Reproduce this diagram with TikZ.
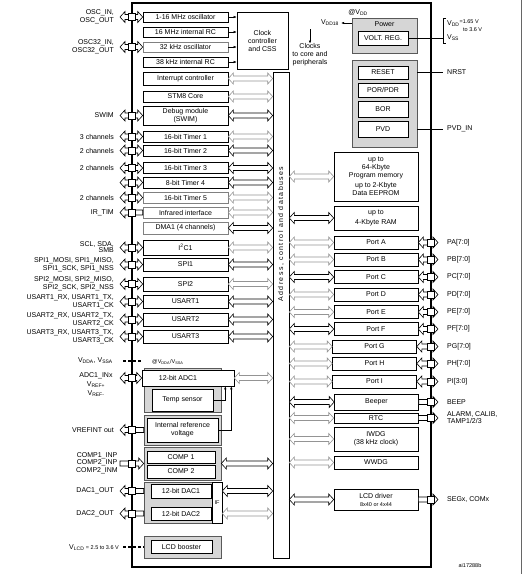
\documentclass[tikz,border=0pt]{standalone}
\usepackage{fontspec}
\setmainfont{Liberation Sans}
\usetikzlibrary{arrows.meta, calc}

\definecolor{grpfill}{gray}{0.84}
\definecolor{grpline}{gray}{0.35}
\definecolor{lnkgray}{gray}{0.58}

\newcommand{\fs}{\fontsize{7}{8}\selectfont}
\newcommand{\fss}{\fontsize{5.5}{6.5}\selectfont}

% hollow block arrows, y taken from the first point, x from both
\newcommand{\dblarr}[3][black]{%
  \draw[link, draw=#1] let \p1=#2, \p2=#3 in
    (\x1,\y1) -- (\x1+5pt,\y1+5.5pt) -- (\x1+5pt,\y1+2.5pt) -- (\x2-5pt,\y1+2.5pt)
    -- (\x2-5pt,\y1+5.5pt) -- (\x2,\y1) -- (\x2-5pt,\y1-5.5pt) -- (\x2-5pt,\y1-2.5pt)
    -- (\x1+5pt,\y1-2.5pt) -- (\x1+5pt,\y1-5.5pt) -- cycle;}
\newcommand{\rarr}[3][black]{%
  \draw[link, draw=#1] let \p1=#2, \p2=#3 in
    (\x1,\y1+2.5pt) -- (\x2-5pt,\y1+2.5pt) -- (\x2-5pt,\y1+5.5pt) -- (\x2,\y1)
    -- (\x2-5pt,\y1-5.5pt) -- (\x2-5pt,\y1-2.5pt) -- (\x1,\y1-2.5pt) -- cycle;}
\newcommand{\larr}[3][black]{%
  \draw[link, draw=#1] let \p1=#2, \p2=#3 in
    (\x1,\y1) -- (\x1+5pt,\y1+5.5pt) -- (\x1+5pt,\y1+2.5pt) -- (\x2,\y1+2.5pt)
    -- (\x2,\y1-2.5pt) -- (\x1+5pt,\y1-2.5pt) -- (\x1+5pt,\y1-5.5pt) -- cycle;}
% pin pad on the frame
\newcommand{\pad}[1]{%
  \draw[line width=0.6pt, fill=white] let \p1=#1 in
    (\x1-3.5pt,\y1-3.5pt) rectangle (\x1+3.5pt,\y1+3.5pt);}

\begin{document}
\begin{tikzpicture}[x=1pt, y=-1pt,
  mod/.style={draw, fill=white, line width=0.6pt, inner sep=0pt, align=center,
              font=\fs, minimum width=85pt},
  gmod/.style={mod, draw=black!50},
  rmod/.style={mod, minimum width=84pt},
  sub/.style={mod, minimum width=50pt},
  grp/.style={draw=grpline, fill=grpfill, line width=0.6pt, inner sep=0pt},
  pinlbl/.style={anchor=east, align=right, font=\fs, inner sep=0pt},
  portlbl/.style={anchor=west, align=left, font=\fs, inner sep=0pt},
  link/.style={line width=0.6pt, fill=white, line join=miter},
  small arrow/.style={-{Latex[length=3pt,width=2.5pt]}, line width=0.5pt},
  supply/.style={line width=1.2pt, dash pattern=on 3pt off 2pt}
]
\useasboundingbox (0,0) rectangle (523,574);

% frame and reference points
\coordinate (fnw) at (132,3);
\coordinate (fse) at (431,567);
\coordinate (pinx) at (120,0);
\coordinate (lblx) at (114,0);
\coordinate (rpinx) at (438,0);
\coordinate (rlblx) at (447,0);
\draw[line width=1.6pt] (fnw) rectangle (fse);
\draw[black!60, line width=0.5pt] (521.5,0) -- (521.5,574);

% bus
\node[draw, line width=0.6pt, minimum width=16pt, minimum height=486pt, inner sep=0pt] (bus) at (281,315) {};
\node[rotate=90, font=\fs\addfontfeature{LetterSpace=20}] (bustxt) at (281,234) {Address, control and databuses};

% clocks
\node[mod, minimum height=10pt] (osc1) at (185.5,17) {1-16 MHz oscillator};
\node[mod, minimum height=10pt] (hsi) at (185.5,32) {16 MHz internal RC};
\node[gmod, minimum height=10pt] (lse) at (185.5,47) {32 kHz oscillator};
\node[mod, minimum height=10pt] (lsi) at (185.5,62) {38 kHz internal RC};
\node[mod, minimum width=51pt, minimum height=57pt] (clk) at (262.5,40.5) {Clock\\controller\\and CSS};
\foreach \m in {osc1, hsi, lse, lsi}
  \draw[small arrow] (\m.east) -- (\m.east -| clk.west);
\coordinate (clksrc) at (310,29);
\node[font=\fs, align=center, inner sep=0pt] (clocks) at (310,55) {Clocks\\to core and\\peripherals};
\draw[small arrow] (clksrc) -- (clocks.north);

% left column
\node[mod, minimum height=13pt] (intc) at (185.5,78.5) {Interrupt controller};
\node[mod, minimum height=11pt] (core) at (185.5,96.5) {STM8 Core};
\node[mod, minimum height=19pt] (dbg) at (185.5,115.5) {Debug module\\(SWIM)};
\node[mod, minimum height=11pt] (tim1) at (185.5,136.5) {16-bit Timer 1};
\node[mod, minimum height=11pt] (tim2) at (185.5,150.5) {16-bit Timer 2};
\node[mod, minimum height=11pt] (tim3) at (185.5,168) {16-bit Timer 3};
\node[mod, minimum height=11pt] (tim4) at (185.5,182.5) {8-bit Timer 4};
\node[gmod, minimum height=11pt] (tim5) at (185.5,197.5) {16-bit Timer 5};
\node[gmod, minimum height=11pt] (irtim) at (185.5,212.5) {Infrared interface};
\node[gmod, minimum height=12pt] (dma) at (185.5,228) {DMA1 (4 channels)};
\node[mod, minimum height=15pt] (i2c) at (185.5,247.5) {I\textsuperscript{2}C1};
\node[mod, minimum height=13pt] (spi1) at (185.5,264.5) {SPI1};
\node[mod, minimum height=14pt] (spi2) at (185.5,284) {SPI2};
\node[mod, minimum height=13pt] (usart1) at (185.5,301.5) {USART1};
\node[mod, minimum height=13pt] (usart2) at (185.5,319.5) {USART2};
\node[mod, minimum height=13pt] (usart3) at (185.5,336.5) {USART3};

% analog
\node[grp, minimum width=77pt, minimum height=44pt] (adcgrp) at (182.5,390) {};
\node[mod, minimum width=92pt, minimum height=16pt] (adc) at (188,378) {\hspace*{-20pt}12-bit ADC1};
\node[mod, minimum width=61pt, minimum height=22pt] (temp) at (182.5,400) {Temp sensor};
\node[grp, minimum width=77pt, minimum height=30pt] (irefgrp) at (182.5,430) {};
\node[mod, minimum width=71pt, minimum height=24pt] (iref) at (182.5,430) {Internal reference\\voltage};
\draw[small arrow] (temp.east) -| ([xshift=-9pt]adc.south east);
\draw[small arrow] (iref.east) -| ([xshift=-3pt]adc.south east);
\node[grp, minimum width=77pt, minimum height=33pt] (compgrp) at (182.5,463.5) {};
\node[mod, minimum width=68pt, minimum height=12pt] (comp1) at (181,457) {COMP 1};
\node[mod, minimum width=68pt, minimum height=13pt] (comp2) at (181,471.5) {COMP 2};
\node[grp, minimum width=68pt, minimum height=41pt] (dacgrp) at (178,502.5) {};
\node[mod, minimum width=10pt, minimum height=41pt, font=\fss] (ifbox) at (217,502.5) {IF};
\node[mod, minimum width=60pt, minimum height=14pt] (dac1) at (181,491) {12-bit DAC1};
\node[mod, minimum width=60pt, minimum height=13pt] (dac2) at (181,513.5) {12-bit DAC2};
\node[grp, minimum width=77pt, minimum height=22pt] (lcdgrp) at (182.5,547) {};
\node[mod, minimum width=61pt, minimum height=13pt] (lcdb) at (181.5,546.5) {LCD booster};

% links to the bus, left side
\foreach \m/\c in {intc/lnkgray, core/lnkgray, dbg/black, tim1/lnkgray, tim2/black,
    tim3/black, tim4/black, tim5/lnkgray, irtim/lnkgray, dma/black, i2c/lnkgray,
    spi1/black, spi2/lnkgray, usart1/black, usart2/black, usart3/black,
    adc/lnkgray, compgrp/black}{
  \dblarr[\c]{(\m.east)}{(bus.west)}
}
\dblarr{(ifbox.east |- dac1)}{(bus.west)}
\dblarr[lnkgray]{(ifbox.east |- dac2)}{(bus.west)}

% power and reset
\node[grp, minimum width=65pt, minimum height=35pt] (pwr) at (384.5,35.5) {};
\node[font=\fs, inner sep=0pt] (pwrtxt) at (384.5,24.5) {Power};
\node[sub, minimum height=14pt] (vreg) at (383,38) {VOLT. REG.};
\node[font=\fs, inner sep=0pt] (l-atvdd) at (358,12) {@V\textsubscript{DD}};
\node[font=\fs, inner sep=0pt] (l-vdd18) at (330,23) {V\textsubscript{DD18}};
\draw[small arrow] (pwr.west |- l-vdd18) -- ([xshift=2pt]l-vdd18.east);
\coordinate (brkt) at (443,18);
\coordinate (brkb) at (443,43);
\draw[line width=0.6pt] ([xshift=3pt]brkt) -- (brkt) -- (brkb) -- ([xshift=3pt]brkb);
\draw[line width=0.6pt] (vreg.east) -- (vreg.east -| brkt);
\node[portlbl] (l-vdd) at (447,23) {V\textsubscript{DD}\raisebox{1.5pt}{\fss=1.65 V}};
\node[portlbl, font=\fss] (l-to) at (463,29.5) {to 3.6 V};
\node[portlbl] (l-vss) at (447,38) {V\textsubscript{SS}};

\node[grp, minimum width=65pt, minimum height=87pt] (rstgrp) at (384.5,103.5) {};
\node[sub, minimum height=13pt] (rst) at (383,72.5) {RESET};
\node[sub, minimum height=14pt] (por) at (383,90) {POR/PDR};
\node[sub, minimum height=16pt] (bor) at (383,109) {BOR};
\node[sub, minimum height=16pt] (pvd) at (383,129) {PVD};
\node[portlbl] (l-nrst) at (rlblx |- rst) {NRST};
\node[portlbl] (l-pvd) at (rlblx |- pvd) {PVD\_IN};
\draw[line width=0.6pt, shorten >=4pt] (rstgrp.east |- rst) -- (l-nrst.west);
\draw[line width=0.6pt, shorten >=4pt] (rstgrp.east |- pvd) -- (l-pvd.west);

% memories and peripherals, right side
\node[rmod, minimum height=49pt] (mem) at (376,176.5) {up to\\64-Kbyte\\Program memory\\[2pt]up to 2-Kbyte\\Data EEPROM};
\node[rmod, minimum height=24pt] (ram) at (376,218) {up to\\[2pt]4-Kbyte RAM};
\foreach \q/\h in {A/242.5, B/259.5, C/277, D/294.5, E/312, F/329}
  \node[rmod, minimum height=13pt] (p\q) at (376,\h) {Port \q};
\foreach \q/\h in {G/346.5, H/363.5, I/381.5}
  \node[rmod, minimum height=13pt] (p\q) at (374.5,\h) {Port \q};
\node[rmod, minimum height=16pt] (beep) at (376.5,402) {Beeper};
\node[rmod, minimum height=10pt] (rtc) at (376,418) {RTC};
\node[rmod, minimum height=24pt] (iwdg) at (376,439) {IWDG\\(38 kHz clock)};
\node[rmod, minimum height=13pt] (wwdg) at (376,462.5) {WWDG};
\node[rmod, minimum height=21pt] (lcd) at (376,499.5) {LCD driver\\{\fss 8x40 or 4x44}};

% links to the bus, right side
\foreach \m/\c in {mem/lnkgray, ram/black, pA/lnkgray, pB/lnkgray, pC/black,
    pD/lnkgray, pE/lnkgray, pF/black, pG/lnkgray, pH/lnkgray, pI/lnkgray,
    beep/black, rtc/lnkgray, iwdg/lnkgray, wwdg/lnkgray, lcd/black}{
  \dblarr[\c]{(bus.east |- \m)}{(\m.west)}
}

% right pins
\foreach \q/\r in {A/7:0, B/7:0, C/7:0, D/7:0, E/7:0, F/7:0, G/7:0, H/7:0, I/3:0}{
  \dblarr{(p\q.east)}{(rpinx |- p\q)}
  \pad{(fse |- p\q)}
  \node[portlbl] (l-p\q) at (rlblx |- p\q) {P\q[\r]};
}
\foreach \m in {beep, rtc, lcd}{
  \rarr{(\m.east)}{(rpinx |- \m)}
  \pad{(fse |- \m)}
}
\node[portlbl] (l-beep) at (rlblx |- beep) {BEEP};
\node[portlbl] (l-rtc) at (rlblx |- rtc) {ALARM, CALIB,\\[-1pt]TAMP1/2/3};
\node[portlbl] (l-lcd) at (rlblx |- lcd) {SEGx, COMx};

% left pins
\foreach \m in {osc1, lse, dbg, tim1, tim2, tim3, tim4, tim5, i2c, spi1, spi2,
    usart1, usart2, usart3, adc}{
  \dblarr{(pinx |- \m)}{(\m.west)}
  \pad{(fnw |- \m)}
}
\larr{(pinx |- irtim)}{(irtim.west)}
\pad{(fnw |- irtim)}
\larr{(pinx |- irefgrp)}{(irefgrp.west)}
\pad{(fnw |- irefgrp)}
\rarr{(pinx |- compgrp)}{(compgrp.west)}
\pad{(fnw |- compgrp)}
\larr{(pinx |- dac1)}{(dacgrp.west)}
\pad{(fnw |- dac1)}
\larr{(pinx |- dac2)}{(dacgrp.west)}
\pad{(fnw |- dac2)}

\node[pinlbl] (l-osc) at (lblx |- osc1) {OSC\_IN,\\OSC\_OUT};
\node[pinlbl] (l-osc32) at (lblx |- lse) {OSC32\_IN,\\OSC32\_OUT};
\node[pinlbl] (l-swim) at (lblx |- dbg) {SWIM};
\node[pinlbl] (l-tim1) at (lblx |- tim1) {3 channels};
\node[pinlbl] (l-tim2) at (lblx |- tim2) {2 channels};
\node[pinlbl] (l-tim3) at (lblx |- tim3) {2 channels};
\node[pinlbl] (l-tim5) at (lblx |- tim5) {2 channels};
\node[pinlbl] (l-ir) at (lblx |- irtim) {IR\_TIM};
\node[pinlbl] (l-i2c) at (lblx |- i2c) {SCL, SDA,\\[-2pt]SMB};
\node[pinlbl] (l-spi1) at (lblx |- spi1) {SPI1\_MOSI, SPI1\_MISO,\\SPI1\_SCK, SPI1\_NSS};
\node[pinlbl] (l-spi2) at (lblx |- spi2) {SPI2\_MOSI, SPI2\_MISO,\\SPI2\_SCK, SPI2\_NSS};
\node[pinlbl] (l-usart1) at (lblx |- usart1) {USART1\_RX, USART1\_TX,\\USART1\_CK};
\node[pinlbl] (l-usart2) at (lblx |- usart2) {USART2\_RX, USART2\_TX,\\USART2\_CK};
\node[pinlbl] (l-usart3) at (lblx |- usart3) {USART3\_RX, USART3\_TX,\\USART3\_CK};
\node[font=\fs, align=center, inner sep=0pt] (l-adc) at (96,385) {ADC1\_INx\\[1pt]V\textsubscript{REF+}\\[1pt]V\textsubscript{REF-}};
\node[pinlbl] (l-vref) at (lblx |- irefgrp) {VREFINT out};
\node[font=\fontsize{7}{7.5}\selectfont, align=center, inner sep=0pt] (l-comp) at (97,463) {COMP1\_INP\\COMP2\_INP\\COMP2\_INM};
\node[pinlbl] (l-dac1) at (lblx |- dac1) {DAC1\_OUT};
\node[pinlbl] (l-dac2) at (lblx |- dac2) {DAC2\_OUT};

% analog and LCD supplies
\coordinate (vdda) at (123,361);
\coordinate (vddaend) at (142,361);
\node[pinlbl] (l-vdda) at (113,361) {V\textsubscript{DDA}, V\textsubscript{SSA}};
\draw[supply] (vdda) -- (vddaend);
\node[font=\fss, anchor=west, inner sep=0pt] (l-atvdda) at (152,362) {@V\textsubscript{DDA}/V\textsubscript{SSA}};
\coordinate (vlcd) at (123,547);
\node[pinlbl] (l-vlcd) at (119,548) {V\textsubscript{LCD}{\fss\ = 2.5 to 3.6 V}};
\draw[supply] (vlcd) -- (vlcd -| lcdgrp.west);

\node[font=\fss, inner sep=0pt] (ref) at (470,566) {ai17288b};
\end{tikzpicture}
\end{document}
